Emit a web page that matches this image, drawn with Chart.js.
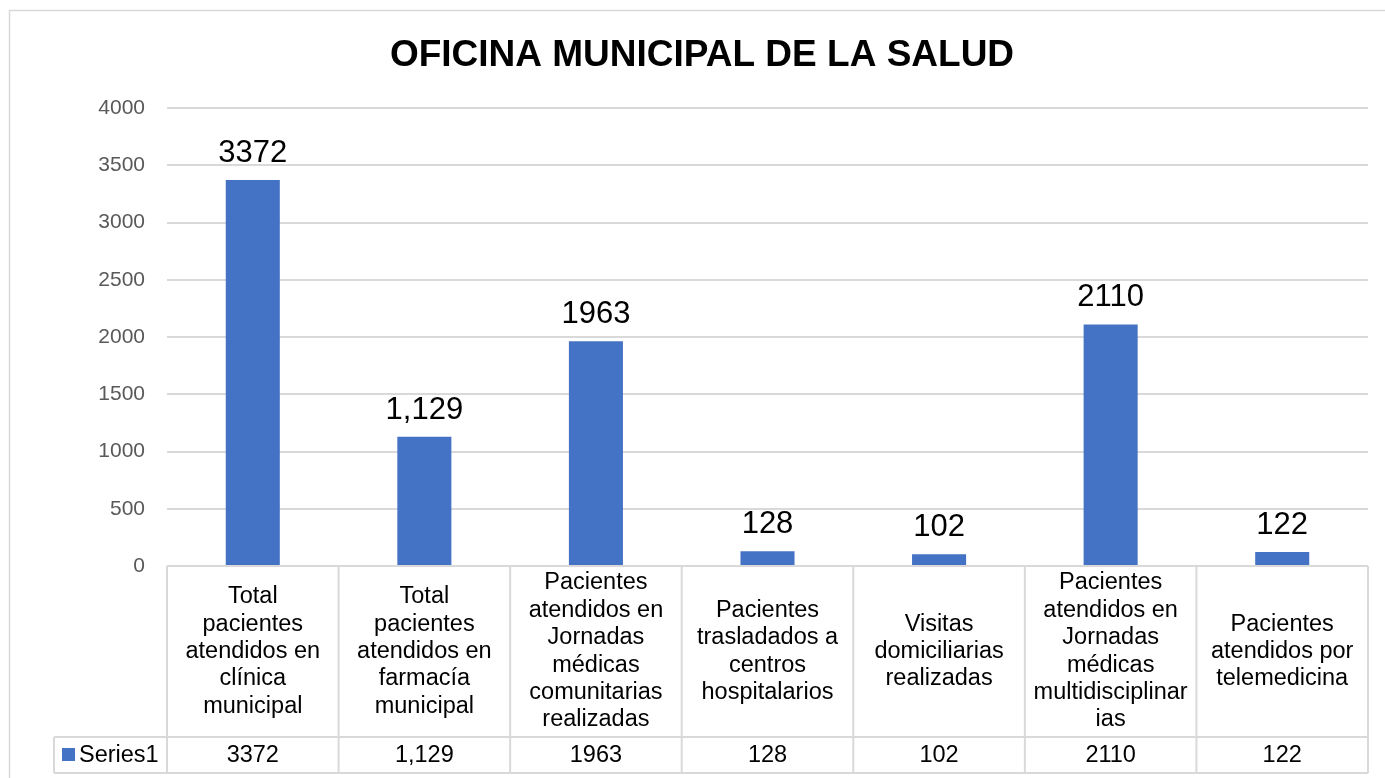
<!DOCTYPE html>
<html>
<head>
<meta charset="utf-8">
<script src="https://cdn.jsdelivr.net/npm/chart.js@4"></script>
<style>
  html, body { margin: 0; padding: 0; background: #fff; overflow: hidden; }
  #wrap { position: relative; width: 1405px; height: 778px; }
</style>
</head>
<body>
<div id="wrap"><canvas id="chart" width="1405" height="778"></canvas></div>
<script>
// Datos
const categorias = [
  ['Total', 'pacientes', 'atendidos en', 'clínica', 'municipal'],
  ['Total', 'pacientes', 'atendidos en', 'farmacía', 'municipal'],
  ['Pacientes', 'atendidos en', 'Jornadas', 'médicas', 'comunitarias', 'realizadas'],
  ['Pacientes', 'trasladados a', 'centros', 'hospitalarios'],
  ['Visitas', 'domiciliarias', 'realizadas'],
  ['Pacientes', 'atendidos en', 'Jornadas', 'médicas', 'multidisciplinar', 'ias'],
  ['Pacientes', 'atendidos por', 'telemedicina']
];
const valores = [3372, 1129, 1963, 128, 102, 2110, 122];
const textoValores = ['3372', '1,129', '1963', '128', '102', '2110', '122'];
const nombreSerie = 'Series1';
const titulo = 'OFICINA MUNICIPAL DE LA SALUD';
const ticksY = [0, 500, 1000, 1500, 2000, 2500, 3000, 3500, 4000];

const FUENTE = '"Liberation Sans", Arial, sans-serif';
const AZUL = '#4472c4';
const GRIS = '#d9d9d9';

// Etiquetas encima de las barras
const etiquetasPlugin = {
  id: 'etiquetas',
  afterDatasetsDraw(chart) {
    const ctx = chart.ctx;
    const meta = chart.getDatasetMeta(0);
    ctx.save();
    ctx.font = '31px ' + FUENTE;
    ctx.fillStyle = '#000';
    ctx.textAlign = 'center';
    ctx.textBaseline = 'alphabetic';
    meta.data.forEach((bar, i) => {
      ctx.fillText(textoValores[i], bar.x, bar.y - 18);
    });
    ctx.restore();
  }
};

// Tabla de datos debajo del eje
const tablaPlugin = {
  id: 'tabla',
  afterDraw(chart) {
    const ctx = chart.ctx;
    const area = chart.chartArea;
    const x = chart.scales.x;
    const n = categorias.length;
    const w = (area.right - area.left) / n;
    const top = area.bottom;
    const mid = top + 171;
    const bot = mid + 36;
    const leyIzq = 54;

    ctx.save();
    // borde exterior
    ctx.strokeStyle = GRIS;
    ctx.lineWidth = 1.5;
    ctx.strokeRect(9.5, 10.5, 1390, 800);

    ctx.lineWidth = 2;
    ctx.beginPath();
    ctx.moveTo(area.left, top); ctx.lineTo(area.right, top);
    ctx.moveTo(leyIzq, mid); ctx.lineTo(area.right, mid);
    ctx.moveTo(leyIzq, bot); ctx.lineTo(area.right, bot);
    for (let i = 0; i <= n; i++) {
      const xx = area.left + i * w;
      ctx.moveTo(xx, top); ctx.lineTo(xx, bot);
    }
    ctx.moveTo(leyIzq, mid); ctx.lineTo(leyIzq, bot);
    ctx.stroke();

    ctx.fillStyle = '#000';
    ctx.textAlign = 'center';
    ctx.textBaseline = 'middle';
    ctx.font = '23.5px ' + FUENTE;
    const lh = 27.4;
    const cy = (top + mid) / 2;
    categorias.forEach((lineas, i) => {
      const cx = x.getPixelForValue(i);
      const y0 = cy - (lineas.length - 1) * lh / 2;
      lineas.forEach((t, j) => ctx.fillText(t, cx, y0 + j * lh));
      ctx.fillText(textoValores[i], cx, (mid + bot) / 2 + 1);
    });

    // leyenda
    ctx.fillStyle = AZUL;
    ctx.fillRect(62, mid + 11, 13, 13);
    ctx.fillStyle = '#000';
    ctx.textAlign = 'left';
    ctx.fillText(nombreSerie, 79, (mid + bot) / 2 + 1);
    ctx.restore();
  }
};

new Chart(document.getElementById('chart'), {
  type: 'bar',
  data: {
    labels: categorias,
    datasets: [{
      label: nombreSerie,
      data: valores,
      backgroundColor: AZUL,
      barPercentage: 0.315,
      categoryPercentage: 1
    }]
  },
  options: {
    responsive: false,
    animation: false,
    layout: { padding: { top: 0, left: 36, right: 37, bottom: 212 } },
    plugins: {
      legend: { display: false },
      tooltip: { enabled: false },
      title: {
        display: true,
        text: titulo,
        color: '#000',
        font: { family: FUENTE, size: 37, weight: 'bold', lineHeight: 1.2 },
        padding: { top: 34, bottom: 29.6 }
      }
    },
    scales: {
      x: {
        display: false
      },
      y: {
        min: 0,
        max: 4000,
        afterFit(s) { s.width = 131; },
        afterBuildTicks(s) { s.ticks = ticksY.map(v => ({ value: v })); },
        border: { display: false },
        grid: { color: GRIS, lineWidth: 2, drawTicks: false },
        ticks: {
          padding: 22,
          color: '#595959',
          font: { family: FUENTE, size: 21 },
          callback: v => String(v)
        }
      }
    }
  },
  plugins: [etiquetasPlugin, tablaPlugin]
});
</script>
</body>
</html>
